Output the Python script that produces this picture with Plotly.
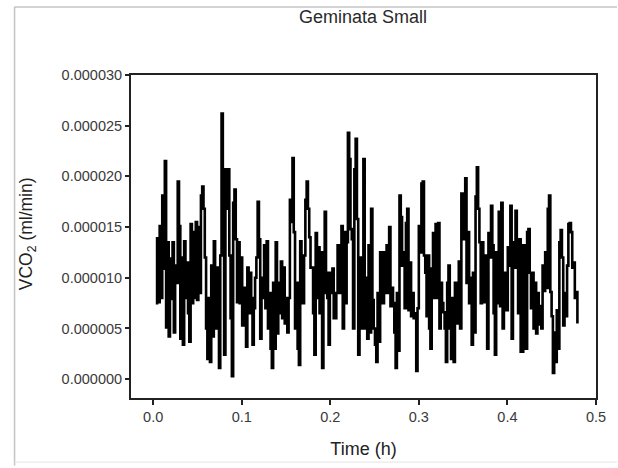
import numpy as np
import plotly.graph_objects as go

# VCO2 readings in units of 1e-6 ml/min (left to right)
vco2_seg1 = [7.5, 13.9, 7.6, 15.1, 8.0, 18.1, 10.9, 21.5, 5.1, 13.5,
             4.2, 11.9, 7.9, 13.5, 4.6, 11.2, 9.5, 19.5, 15.1, 4.0,
             12.0, 3.4, 13.6, 8.0, 11.5, 6.5, 3.7, 15.3, 7.5, 14.5,
             8.0, 15.5, 7.8, 15.0, 8.5, 18.1, 19.0, 16.8, 12.0, 5.0,
             2.0, 8.0, 1.7, 11.2, 4.2, 13.6, 10.5, 5.0, 11.0, 1.1,
             12.2, 26.2, 18.5, 2.4, 20.7, 16.8, 20.7, 12.2, 6.0, 0.3,
             17.4, 18.7, 13.8, 7.6, 13.5, 7.5, 12.0, 5.3, 9.0, 6.0,
             3.2, 11.0, 6.5, 10.5, 8.0, 3.4, 7.0, 10.0, 12.0, 17.5]
vco2_seg2 = [13.8, 4.0, 10.0, 8.0, 13.2, 7.0, 13.6, 5.0, 8.5, 3.0,
             1.1, 9.5, 3.0, 13.5, 4.5, 9.5, 6.5, 11.6, 6.0, 11.0,
             5.5, 8.0, 4.6, 8.0, 17.7, 15.5, 21.8, 14.5, 5.0, 9.5,
             3.0, 1.4, 13.6, 9.5, 7.5, 12.2, 17.7, 19.5, 16.8, 14.0,
             11.0, 11.0, 6.5, 2.4, 14.4, 8.0, 13.0, 6.5, 12.5, 1.1,
             8.5, 16.5, 10.5, 8.0, 3.4, 10.5, 8.5, 10.9, 6.0, 6.0,
             8.5, 13.2, 12.0, 8.5, 15.1, 5.0, 14.5, 7.5, 13.5, 24.3,
             21.7, 14.8, 13.8, 5.0, 20.7, 23.7, 15.8, 2.4, 12.0, 5.0,
             8.0, 21.7]
vco2_seg3 = [5.0, 10.0, 4.0, 13.2, 4.6, 16.8, 7.8, 5.0, 3.4, 1.7,
             8.5, 3.7, 12.5, 9.5, 7.5, 12.5, 8.5, 13.2, 8.5, 15.0,
             7.2, 9.0, 7.5, 4.6, 1.1, 8.5, 2.8, 18.1, 16.0, 11.2,
             12.5, 7.0, 15.4, 16.8, 6.8, 11.5, 6.2, 8.5, 6.0, 6.5,
             0.8, 7.0, 15.1, 12.5, 19.3, 19.5, 12.2, 10.5, 6.2, 12.2,
             5.0, 3.0, 10.9, 14.4, 8.0, 15.3, 8.0, 15.4, 5.0, 9.5,
             7.5, 6.6, 5.0, 1.7, 9.5, 11.2, 5.0, 2.0, 8.0, 1.7,
             9.5, 5.5, 9.0, 11.6, 5.0, 18.3, 17.0, 13.8, 19.8, 9.5,
             14.5, 7.5, 10.0, 3.4, 10.5, 4.6, 18.0, 20.9, 16.8, 13.5]
vco2_seg4 = [7.5, 13.5, 7.6, 12.2, 8.5, 3.0, 14.4, 12.0, 17.1, 13.2,
             6.5, 2.4, 12.5, 7.5, 16.5, 7.2, 17.4, 5.0, 10.5, 9.0,
             6.8, 13.0, 11.2, 17.1, 4.0, 13.5, 11.0, 16.6, 12.2, 6.5,
             13.8, 2.7, 2.7, 13.2, 9.0, 3.0, 14.5, 14.8, 10.5, 7.0,
             10.5, 5.0, 9.5, 4.5, 8.5, 5.4, 7.2, 5.0, 11.2, 8.7,
             12.5, 9.0, 16.8, 18.1, 8.6, 6.2, 0.6, 4.6, 1.7, 6.8,
             3.0, 13.5, 14.7, 12.0, 5.3, 8.5, 6.2, 11.2, 15.3, 15.4,
             14.5, 11.0, 11.5, 8.0, 8.6, 5.5]

t_start_h = 0.003
t_end_h = 0.479

y_ticks = [0.0, 0.000005, 0.000010, 0.000015, 0.000020, 0.000025, 0.000030]
y_tick_labels = ["0.000000", "0.000005", "0.000010", "0.000015",
                 "0.000020", "0.000025", "0.000030"]
x_ticks = [0.0, 0.1, 0.2, 0.3, 0.4, 0.5]
x_tick_labels = ["0.0", "0.1", "0.2", "0.3", "0.4", "0.5"]

vco2_micro = vco2_seg1 + vco2_seg2 + vco2_seg3 + vco2_seg4
vco2 = [v * 1e-6 for v in vco2_micro]
time_h = np.linspace(t_start_h, t_end_h, len(vco2))

W, H = 618, 468
L, R, T, B = 131, 21, 75, 68
pw, ph = W - L - R, H - T - B

def px(x):
    return (x - L) / pw

def py(y):
    return (H - B - y) / ph

fig = go.Figure()
fig.add_trace(go.Scatter(x=time_h, y=vco2, mode="lines",
                         line=dict(color="black", width=2.6, shape="hv"),
                         showlegend=False, hoverinfo="x+y"))

font_main = "Liberation Sans, Arial, sans-serif"
fig.update_layout(
    width=W, height=H,
    margin=dict(l=L, r=R, t=T, b=B),
    paper_bgcolor="white", plot_bgcolor="white",
    font=dict(family=font_main, color="#333333"),
    title=dict(text="Geminata Small", x=363 / W, xanchor="center",
               y=1 - 17 / H, yanchor="middle",
               font=dict(size=18, color="#2a2a2a", family=font_main)),
    xaxis=dict(range=[-0.025, 0.5], tickvals=x_ticks, ticktext=x_tick_labels,
               showgrid=False, zeroline=False, showline=True, linecolor="#222222",
               linewidth=2, mirror=True, ticks="outside", ticklen=5, tickwidth=1.5,
               tickcolor="#222222", tickfont=dict(size=14.5, color="#3a3a3a"),
               title=dict(text="Time (h)", font=dict(size=18, color="#222222"),
                          standoff=18)),
    yaxis=dict(range=[-1.86e-6, 3.0e-5], tickvals=y_ticks, ticktext=y_tick_labels,
               showgrid=False, zeroline=False, showline=True, linecolor="#222222",
               linewidth=2, mirror=True, ticks="outside", ticklen=4, tickwidth=1.5,
               tickcolor="#222222", tickfont=dict(size=14.5, color="#3a3a3a")),
)

fig.add_annotation(text="VCO<sub>2</sub> (ml/min)", xref="paper", yref="paper",
                   x=px(27), y=py(235), xanchor="center", yanchor="middle",
                   textangle=-90, showarrow=False,
                   font=dict(size=17.5, color="#222222", family=font_main))

# faint outer frame of the original screenshot
fig.add_shape(type="line", xref="paper", yref="paper", x0=px(14), x1=px(618),
              y0=py(6.5), y1=py(6.5), line=dict(color="#c4c4c4", width=1.5))
fig.add_shape(type="line", xref="paper", yref="paper", x0=px(14.3), x1=px(14.3),
              y0=py(6.5), y1=py(468), line=dict(color="#c4c4c4", width=1.5))
fig.add_shape(type="line", xref="paper", yref="paper", x0=px(14), x1=px(618),
              y0=py(464.5), y1=py(464.5), line=dict(color="#e4e4e4", width=1))

fig.write_html("out.html",
               config={"displayModeBar": False},
               post_script="document.body.style.margin='0';"
                           "document.body.style.overflow='hidden';")
